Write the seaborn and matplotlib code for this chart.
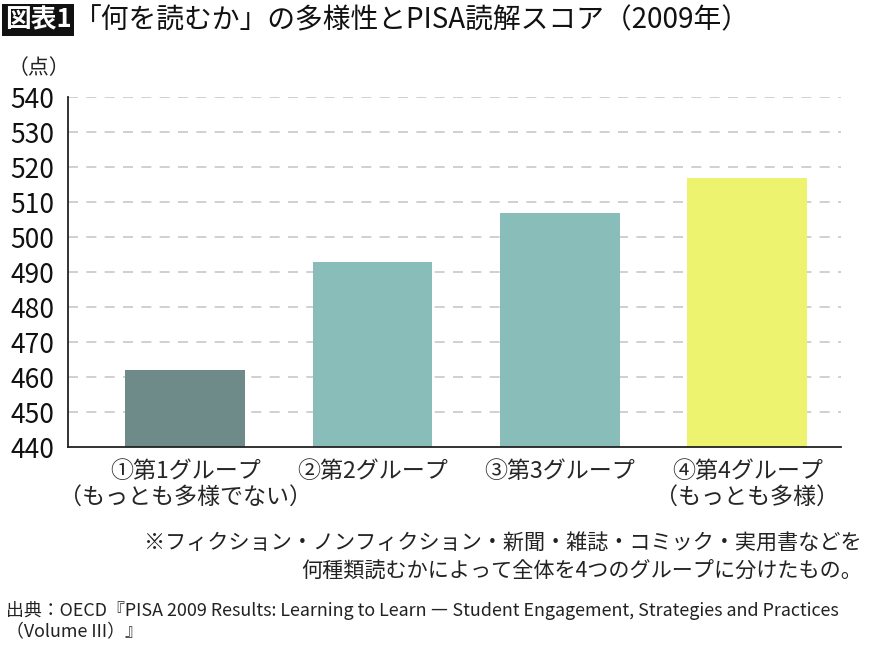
import matplotlib
matplotlib.use("Agg")
import matplotlib.pyplot as plt
import seaborn as sns
import pandas as pd

categories = ["①第1グループ\n（もっとも多様でない）", "②第2グループ", "③第3グループ", "④第4グループ\n（もっとも多様）"]
scores = [462, 493, 507, 517]
colors = ["#6e8a89", "#88bdb9", "#88bdb9", "#eef36f"]
yticks = list(range(440, 541, 10))

title_box = "図表1"
title = "「何を読むか」の多様性とPISA読解スコア（2009年）"
unit = "（点）"
note = "※フィクション・ノンフィクション・新聞・雑誌・コミック・実用書などを\n何種類読むかによって全体を4つのグループに分けたもの。"
source = "出典：OECD『PISA 2009 Results: Learning to Learn ― Student Engagement, Strategies and Practices\n（Volume III）』"

sns.set_theme(style="white")
plt.rcParams["font.family"] = ["Noto Sans CJK JP", "DejaVu Sans"]

W, H = 870, 647
fig = plt.figure(figsize=(W / 100, H / 100), dpi=100)
ax = fig.add_axes([68 / W, (H - 447) / H, (841 - 68) / W, (447 - 97) / H])

df = pd.DataFrame({"cat": categories, "score": scores})
sns.barplot(data=df, x="cat", y="score", hue="cat", palette=colors, legend=False,
            width=0.64, ax=ax, saturation=1, edgecolor="none")

ax.set_ylim(440, 540)
ax.set_xlim(-0.625, 3.5)
ax.set_yticks(yticks)
ax.set_yticklabels([str(v) for v in yticks], fontsize=19)
for v in yticks[1:]:
    ax.axhline(v, color="#c8c8c8", lw=1.2, ls=(0, (6, 5)), zorder=0)

ax.set_xticks(range(len(categories)))
ax.set_xticklabels(categories, fontsize=16.6, linespacing=1.2, va="top")
ax.set_xticks([-0.625, 0.5, 1.5, 2.5, 3.5], minor=True)
ax.tick_params(axis="x", which="major", length=0, pad=9)
ax.tick_params(axis="x", which="minor", length=8, width=1.2, color="#222222", direction="out")
ax.tick_params(axis="y", length=7, width=1.2, color="#222222", direction="out", pad=3, labelcolor="#111111")
ax.set_xlabel("")
ax.set_ylabel("")
for s in ["top", "right"]:
    ax.spines[s].set_visible(False)
for s in ["left", "bottom"]:
    ax.spines[s].set_color("#222222")
    ax.spines[s].set_linewidth(1.3)

fig.text(5 / W, 1 - 20 / H, title_box, fontsize=18.5, fontweight="bold", color="white",
         va="center", ha="left",
         bbox=dict(boxstyle="square,pad=0.1", facecolor="#111111", edgecolor="none"))
fig.text(74 / W, 1 - 20 / H, title, fontsize=20, color="#111111", va="center", ha="left")
fig.text(8 / W, 1 - 68 / H, unit, fontsize=15, color="#222222", va="center", ha="left")
fig.text(862 / W, 1 - 558 / H, note, fontsize=15.2, color="#222222", va="center", ha="right",
         linespacing=1.35)
fig.text(6 / W, 1 - 621 / H, source, fontsize=12.9, color="#222222", va="center", ha="left",
         linespacing=1.25)

fig.savefig("out.png", dpi=100)
